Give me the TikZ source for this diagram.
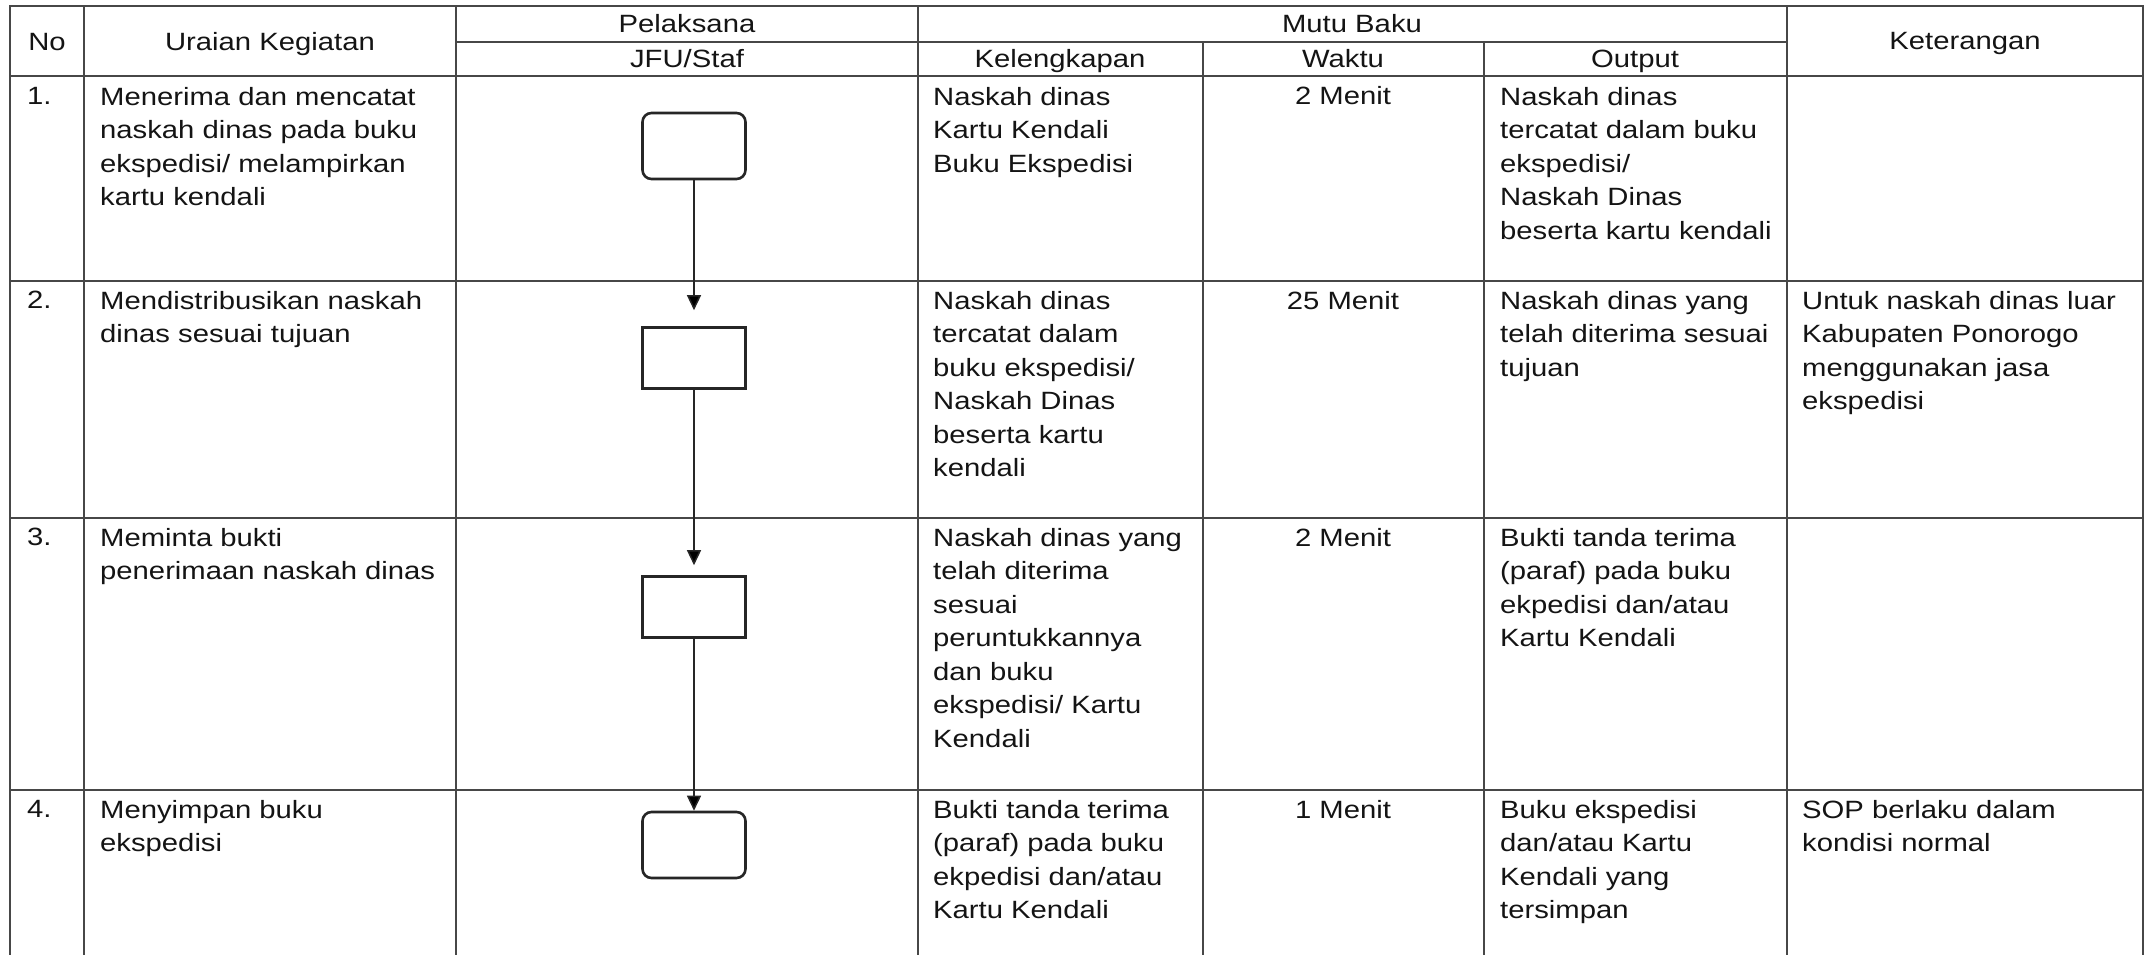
\documentclass[tikz,border=0pt]{standalone}
\usepackage{fontspec}
\setmainfont{Liberation Sans}[FakeStretch=1.17]
\usetikzlibrary{arrows.meta, positioning}

\begin{document}
\begin{tikzpicture}[x=1pt,y=-1pt,>={Triangle[length=15pt,width=14pt]},
        grid/.style={draw=black!72, line width=1.6pt},
        head/.style={anchor=base, inner sep=0pt, text=black!92, font=\fontsize{25}{33.5}\selectfont},
        cell/.style={anchor=north west, inner sep=0pt, align=left, text=black!92,
            font=\fontsize{25}{33.5}\selectfont},
        waktu/.style={head},
        tugas/.style={draw=black!85, line width=2.6pt, minimum width=103pt, minimum height=61pt, inner sep=0pt},
        mulai/.style={tugas, rounded corners=9pt, minimum height=66pt}]

    \useasboundingbox (0,0) rectangle (2145,955);

    % garis tabel
    \draw[grid] (10,955) -- (10,6) -- (2143,6) -- (2143,955);
    \draw[grid] (456,42) -- (1787,42);
    \foreach \y in {76,281,518,790}
        \draw[grid] (10,\y) -- (2143,\y);
    \foreach \x in {84,456,918,1787}
        \draw[grid] (\x,6) -- (\x,955);
    \foreach \x in {1203,1484}
        \draw[grid] (\x,42) -- (\x,955);

    % kepala tabel
    \node[head] (no)        at (47,51)   {No};
    \node[head] (uraian)    at (270,51)  {Uraian Kegiatan};
    \node[head] (pelaksana) at (687,33)  {Pelaksana};
    \node[head] (jfu)       at (687,68)  {JFU/Staf};
    \node[head] (mutu)      at (1352,33) {Mutu Baku};
    \node[head] (kel)       at (1060,68) {Kelengkapan};
    \node[head] (wkt)       at (1343,68) {Waktu};
    \node[head] (out)       at (1635,68) {Output};
    \node[head] (ket)       at (1965,50) {Keterangan};

    % baris 1 (baseline 105)
    \node[cell]  (no1) at (27,87)    {1.};
    \node[cell]  (ur1) at (100,87)   {Menerima dan mencatat\\naskah dinas pada buku\\ekspedisi/ melampirkan\\kartu kendali};
    \node[cell]  (kl1) at (933,87)   {Naskah dinas\\Kartu Kendali\\Buku Ekspedisi};
    \node[waktu] (wk1) at (1343,105) {2 Menit};
    \node[cell]  (ou1) at (1500,87)  {Naskah dinas\\tercatat dalam buku\\ekspedisi/\\Naskah Dinas\\beserta kartu kendali};

    % baris 2 (baseline 309)
    \node[cell]  (no2) at (27,291)   {2.};
    \node[cell]  (ur2) at (100,291)  {Mendistribusikan naskah\\dinas sesuai tujuan};
    \node[cell]  (kl2) at (933,291)  {Naskah dinas\\tercatat dalam\\buku ekspedisi/\\Naskah Dinas\\beserta kartu\\kendali};
    \node[waktu] (wk2) at (1343,309) {25 Menit};
    \node[cell]  (ou2) at (1500,291) {Naskah dinas yang\\telah diterima sesuai\\tujuan};
    \node[cell]  (kt2) at (1802,291) {Untuk naskah dinas luar\\Kabupaten Ponorogo\\menggunakan jasa\\ekspedisi};

    % baris 3 (baseline 546)
    \node[cell]  (no3) at (27,528)   {3.};
    \node[cell]  (ur3) at (100,528)  {Meminta bukti\\penerimaan naskah dinas};
    \node[cell]  (kl3) at (933,528)  {Naskah dinas yang\\telah diterima\\sesuai\\peruntukkannya\\dan buku\\ekspedisi/ Kartu\\Kendali};
    \node[waktu] (wk3) at (1343,546) {2 Menit};
    \node[cell]  (ou3) at (1500,528) {Bukti tanda terima\\(paraf) pada buku\\ekpedisi dan/atau\\Kartu Kendali};

    % baris 4 (baseline 818)
    \node[cell]  (no4) at (27,800)   {4.};
    \node[cell]  (ur4) at (100,800)  {Menyimpan buku\\ekspedisi};
    \node[cell]  (kl4) at (933,800)  {Bukti tanda terima\\(paraf) pada buku\\ekpedisi dan/atau\\Kartu Kendali};
    \node[waktu] (wk4) at (1343,818) {1 Menit};
    \node[cell]  (ou4) at (1500,800) {Buku ekspedisi\\dan/atau Kartu\\Kendali yang\\tersimpan};
    \node[cell]  (kt4) at (1802,800) {SOP berlaku dalam\\kondisi normal};

    % alur JFU/Staf
    \node[mulai] (s1) at (694,146) {};
    \node[tugas] (s2) at (694,358) {};
    \node[tugas] (s3) at (694,607) {};
    \node[mulai] (s4) at (694,845) {};

    \path[->, draw=black!85, line width=1.5pt]
        (s1) edge [shorten >=16pt] (s2)
        (s2) edge [shorten >=10pt] (s3)
        (s3) edge (s4);
\end{tikzpicture}
\end{document}
